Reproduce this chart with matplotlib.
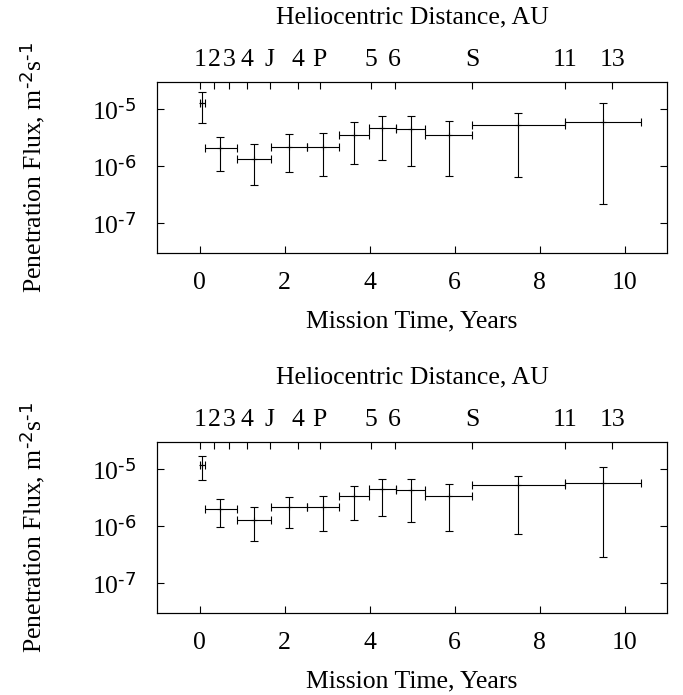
import numpy as np
import matplotlib
matplotlib.use("Agg")
import matplotlib.pyplot as plt
from matplotlib.ticker import LogLocator, NullLocator, FuncFormatter

plt.rcParams['font.family'] = ['Liberation Serif', 'DejaVu Serif']
plt.rcParams['font.size'] = 18.5
plt.rcParams['mathtext.default'] = 'regular'
plt.rcParams['axes.unicode_minus'] = False

# time bins (years) - left edge, centre, right edge
t_left = [0.0, 0.133, 0.87, 1.67, 2.515, 3.28, 3.98, 4.63, 5.31, 6.41, 8.59]
t_mid = [0.06, 0.486, 1.277, 2.108, 2.89, 3.63, 4.30, 4.98, 5.87, 7.50, 9.49]
t_right = [0.12, 0.87, 1.67, 2.515, 3.28, 3.98, 4.63, 5.31, 6.41, 8.59, 10.39]

# upper panel
flux_a = [1.26e-5, 2.05e-6, 1.31e-6, 2.19e-6, 2.15e-6, 3.46e-6, 4.59e-6, 4.41e-6, 3.46e-6, 5.32e-6, 5.85e-6]
flux_a_hi = [1.96e-5, 3.28e-6, 2.41e-6, 3.6e-6, 3.75e-6, 5.85e-6, 7.55e-6, 7.64e-6, 6.08e-6, 8.5e-6, 1.29e-5]
flux_a_lo = [5.6e-6, 8.3e-7, 4.6e-7, 7.8e-7, 6.8e-7, 1.09e-6, 1.28e-6, 1.0e-6, 6.8e-7, 6.4e-7, 2.18e-7]

# lower panel
flux_b = [1.19e-5, 2.0e-6, 1.29e-6, 2.14e-6, 2.12e-6, 3.43e-6, 4.54e-6, 4.36e-6, 3.43e-6, 5.26e-6, 5.7e-6]
flux_b_hi = [1.66e-5, 2.96e-6, 2.12e-6, 3.2e-6, 3.34e-6, 5.1e-6, 6.7e-6, 6.7e-6, 5.4e-6, 7.65e-6, 1.08e-5]
flux_b_lo = [6.5e-6, 9.7e-7, 5.5e-7, 9.1e-7, 8.2e-7, 1.29e-6, 1.51e-6, 1.19e-6, 8.2e-7, 7.3e-7, 2.84e-7]

# heliocentric distance markers on top axis
au_pos = [0.0, 0.345, 0.69, 1.12, 1.65, 2.32, 2.82, 4.02, 4.59, 6.41, 8.59, 9.71]
au_lab = ['1', '2', '3', '4', 'J', '4', 'P', '5', '6', 'S', '11', '13']

fig = plt.figure(figsize=(6.83, 6.95), dpi=100)

# gnuplot style exponent with a plain hyphen
def pow10(v, pos):
    return '$10^{\\text{%d}}$' % int(round(np.log10(v)))

def panel(rect, y, ylo, yhi):
    ax = fig.add_axes(rect)
    x = np.array(t_mid)
    y = np.array(y)
    xerr = [x - np.array(t_left), np.array(t_right) - x]
    yerr = [y - np.array(ylo), np.array(yhi) - y]
    ax.errorbar(x, y, xerr=xerr, yerr=yerr, fmt='+', color='black', ms=5, mew=0.8,
                ecolor='black', elinewidth=0.8, capsize=3, capthick=0.8)
    ax.set_yscale('log')
    ax.set_ylim(10**-7.52, 10**-4.52)
    ax.set_xlim(-1, 11)
    ax.yaxis.set_major_locator(LogLocator(base=10, numticks=10))
    ax.yaxis.set_major_formatter(FuncFormatter(pow10))
    ax.yaxis.set_minor_locator(NullLocator())
    ax.set_xticks([0, 2, 4, 6, 8, 10])
    ax.tick_params(direction='in', length=5, width=0.8, top=True, right=True)
    ax.tick_params(axis='x', pad=14)
    ax.tick_params(axis='y', pad=15)
    ax.set_xlabel('Mission Time, Years', labelpad=12)
    ax.set_ylabel('Penetration Flux, m$^{\\text{-2}}$s$^{\\text{-1}}$')
    ax.yaxis.set_label_coords(-0.216, 0.5)
    for s in ax.spines.values():
        s.set_linewidth(0.8)
    top = ax.twiny()
    top.set_xlim(-1, 11)
    top.set_xticks(au_pos)
    top.set_xticklabels(au_lab)
    top.tick_params(direction='in', length=5, width=0.8, pad=8)
    top.set_xlabel('Heliocentric Distance, AU', labelpad=18)
    return ax

panel([0.2303, 0.6364, 0.7463, 0.2460], flux_a, flux_a_lo, flux_a_hi)
panel([0.2303, 0.1184, 0.7463, 0.2461], flux_b, flux_b_lo, flux_b_hi)

fig.savefig('out.png', dpi=100)
